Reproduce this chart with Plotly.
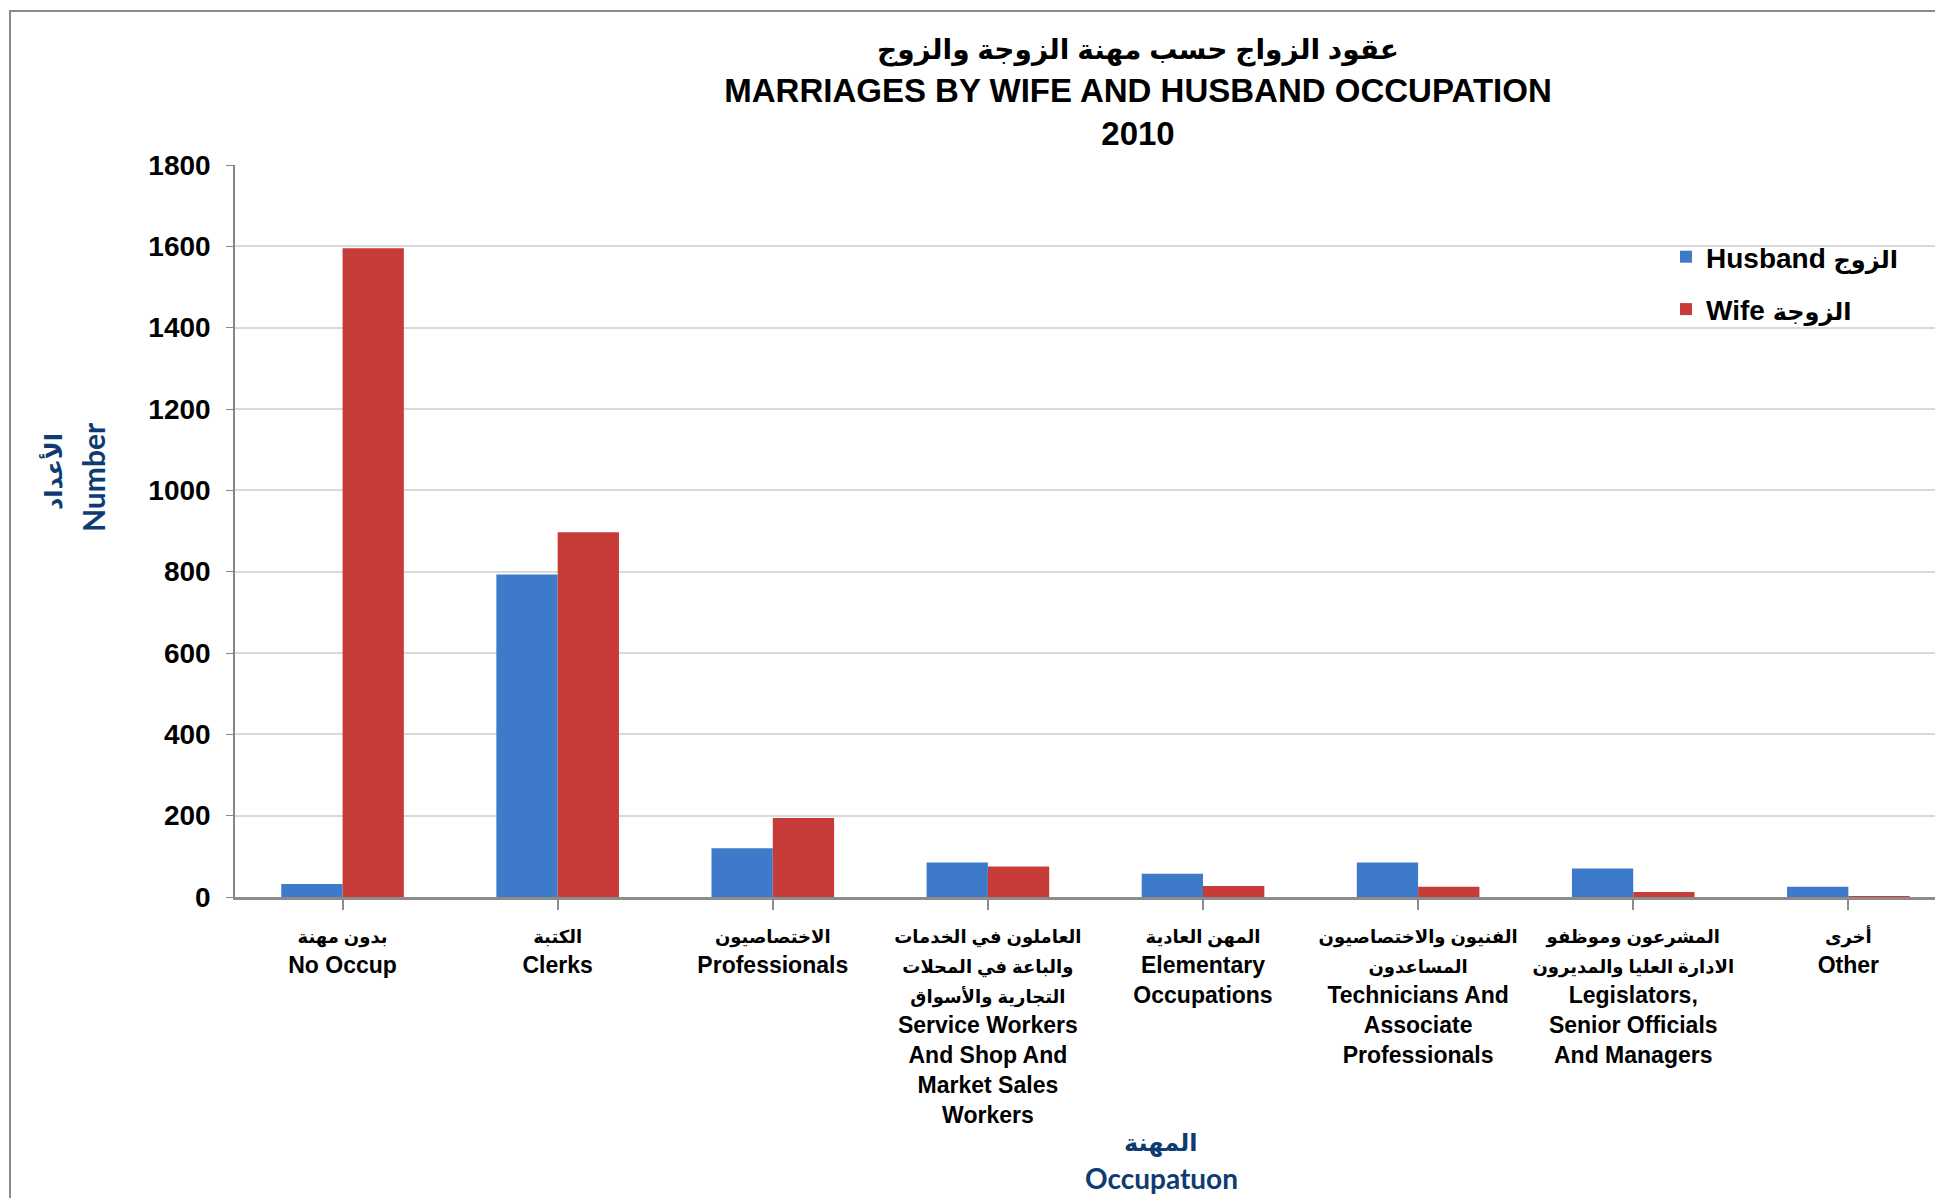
import plotly.graph_objects as go

# ---- data ----
categories_en = ["No Occup", "Clerks", "Professionals",
                 "Service Workers<br>And Shop And<br>Market Sales<br>Workers",
                 "Elementary<br>Occupations",
                 "Technicians And<br>Associate<br>Professionals",
                 "Legislators,<br>Senior Officials<br>And Managers",
                 "Other"]
categories_ar = ["بدون مهنة", "الكتبة", "الاختصاصيون",
                 "العاملون في الخدمات<br>والباعة في المحلات<br>التجارية والأسواق",
                 "المهن العادية",
                 "الفنيون والاختصاصيون<br>المساعدون",
                 "المشرعون وموظفو<br>الادارة العليا والمديرون",
                 "أخرى"]
husband = [32, 793, 120, 85, 57, 85, 70, 25]
wife = [1595, 897, 194, 75, 27, 25, 12, 2]
y_ticks = [0, 200, 400, 600, 800, 1000, 1200, 1400, 1600, 1800]


def ar(text, size):
    # Arabic lines rendered a bit smaller (fallback Arabic font is wide)
    return "<br>".join(f"<span style='font-size:{size}px'>{t}</span>" for t in text.split("<br>"))


ticktext = [f"{ar(a, 18)}<br>{e}" for a, e in zip(categories_ar, categories_en)]
xs = list(range(len(categories_en)))

# page has an 8px body margin -> work in figure coordinates (page - 8)
OFF = 8
W, H = 1943 - OFF, 1198 - OFF
L, R, T = 235 - OFF, 0, 165 - OFF
BOT = 897 - OFF           # plot bottom in figure px
B = H - BOT
pw, ph = W - L - R, BOT - T
FONT = "Liberation Sans, Arial, DejaVu Sans, sans-serif"
TFONT = "Lato, DejaVu Sans, sans-serif"
BLUE_T = "#0f3b73"


def px_x(page_x):
    return (page_x - OFF - L) / pw


def px_y(page_y):
    return (BOT - (page_y - OFF)) / ph


fig = go.Figure()
fig.add_trace(go.Bar(x=xs, y=husband, name="Husband " + ar("الزوج", 24),
                     marker=dict(color="#3d7bca", line=dict(width=0)),
                     legendgroup="h"))
fig.add_trace(go.Bar(x=xs, y=wife, name="Wife " + ar("الزوجة", 24),
                     marker=dict(color="#c73b39", line=dict(width=0)),
                     legendgroup="w"))

fig.update_layout(
    width=W, height=H,
    margin=dict(l=L, r=R, t=T, b=B),
    paper_bgcolor="white", plot_bgcolor="white",
    barmode="group", bargap=0.43, bargroupgap=0,
    font=dict(family=FONT, color="black"),
    title=dict(
        text="<b>" + ar("عقود الزواج حسب مهنة الزوجة والزوج", 28)
             + "<br>MARRIAGES BY WIFE AND HUSBAND OCCUPATION<br>2010</b>",
        x=(1138 - OFF) / W, xanchor="center", y=1 - 51 / H, yanchor="top",
        font=dict(size=33, family=FONT, color="black"),
    ),
    legend=dict(
        x=px_x(1666), xanchor="left",
        y=px_y(232), yanchor="top",
        font=dict(size=28, family=FONT, color="black", weight="bold"),
        tracegroupgap=13, itemwidth=30, bgcolor="rgba(0,0,0,0)",
    ),
    xaxis=dict(
        tickmode="array", tickvals=xs, ticktext=ticktext,
        range=[-0.5, 7.44], tickson="boundaries",
        ticks="outside", ticklen=10, tickcolor="#8c8c8c", tickwidth=1.5,
        showline=True, linecolor="#8c8c8c", linewidth=2.5,
        tickfont=dict(size=23, family=FONT, color="black", weight="bold"),
        tickangle=0, ticklabelstandoff=6, showgrid=False,
    ),
    yaxis=dict(
        range=[0, 1800], tickmode="array", tickvals=y_ticks,
        ticks="outside", ticklen=7, tickcolor="#868686",
        showline=True, linecolor="#868686", linewidth=1.5,
        showgrid=True, gridcolor="#d9d9d9", gridwidth=1.5,
        tickfont=dict(size=28, family=FONT, color="black", weight="bold"),
        ticklabelstandoff=10, zeroline=False,
    ),
    showlegend=True,
)

# axis titles (each line placed separately)
for txt, size, x, y, ang in [
    ("الأعداد", 24, 52, 472, -90),
    ("Number", 30, 93, 477, -90),
    ("المهنة", 24, 1161, 1142, 0),
    ("Occupatuon", 28, 1161, 1178, 0),
]:
    fig.add_annotation(
        text=f"<b>{txt}</b>", textangle=ang,
        xref="paper", yref="paper", x=px_x(x), y=px_y(y),
        xanchor="center", yanchor="middle", showarrow=False,
        font=dict(size=size, family=TFONT, color=BLUE_T, weight="bold"),
    )

# outer chart border
fig.add_shape(type="rect", xref="paper", yref="paper",
              x0=px_x(10), x1=px_x(1970),
              y0=px_y(1230), y1=px_y(11),
              line=dict(color="#8a8a8a", width=2), fillcolor="rgba(0,0,0,0)",
              layer="below")

fig.write_html("out.html")
